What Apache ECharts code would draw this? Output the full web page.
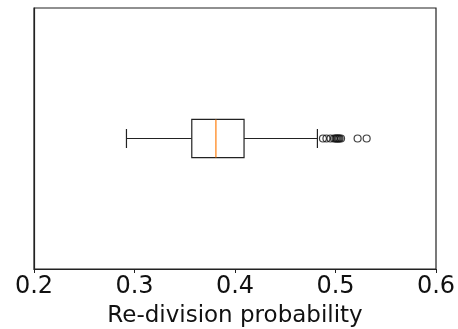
<!DOCTYPE html>
<html>
<head>
<meta charset="utf-8">
<script src="https://cdn.jsdelivr.net/npm/echarts@6/dist/echarts.min.js"></script>
<style>
  html, body { margin: 0; padding: 0; background: #fff; }
  #boxChart { width: 458px; height: 329px; }
</style>
</head>
<body>
<div id="boxChart"></div>
<script>
var categories = ["1"];
// five-number summary per box: low whisker, Q1, median, Q3, high whisker
var whiskerLow = [0.292];
var q1 = [0.357];
var medians = [0.381];
var q3 = [0.409];
var whiskerHigh = [0.482];
var outliers = [0.4875, 0.491, 0.495, 0.4985, 0.500, 0.501, 0.502, 0.503, 0.504, 0.5055, 0.522, 0.531];
var xTicks = [0.2, 0.3, 0.4, 0.5, 0.6];

var chart = echarts.init(document.getElementById("boxChart"));

var boxData = categories.map(function (c, i) {
  return [i, whiskerLow[i], q1[i], medians[i], q3[i], whiskerHigh[i]];
});
var outlierData = outliers.map(function (v) {
  return [v, 0];
});

var lineStyle = { stroke: "#222", lineWidth: 1.2 };

var option = {
  backgroundColor: "#fff",
  animation: false,
  textStyle: { fontFamily: "DejaVu Sans" },
  grid: {
    left: 34,
    right: 22,
    top: 8,
    bottom: 60,
    outerBoundsMode: "none",
    containLabel: false,
    show: true,
    borderColor: "#222",
    borderWidth: 1.2,
    backgroundColor: "transparent"
  },
  xAxis: {
    type: "value",
    min: xTicks[0],
    max: xTicks[xTicks.length - 1],
    interval: 0.1,
    name: "Re-division probability",
    nameLocation: "middle",
    nameGap: 36,
    nameTextStyle: { color: "#111", fontSize: 23, fontFamily: "DejaVu Sans" },
    axisLine: { show: true, lineStyle: { color: "#222", width: 1.2 } },
    axisTick: { show: true, length: 4, lineStyle: { color: "#222" } },
    splitLine: { show: false },
    axisLabel: {
      color: "#111",
      fontSize: 24,
      margin: 6,
      fontFamily: "DejaVu Sans",
      formatter: function (v) { return v.toFixed(1); }
    }
  },
  yAxis: {
    type: "category",
    data: categories,
    axisLine: { show: true, lineStyle: { color: "#222", width: 1.2 } },
    axisTick: { show: false },
    axisLabel: { show: false },
    splitLine: { show: false }
  },
  series: [
    {
      type: "custom",
      data: boxData,
      encode: { y: 0, x: [1, 2, 3, 4, 5] },
      renderItem: function (params, api) {
        var cat = api.value(0);
        var band = api.size([0, 1])[1];
        var half = band * 0.073;
        var cap = half / 2;
        var pLow = api.coord([api.value(1), cat]);
        var pQ1 = api.coord([api.value(2), cat]);
        var pMed = api.coord([api.value(3), cat]);
        var pQ3 = api.coord([api.value(4), cat]);
        var pHigh = api.coord([api.value(5), cat]);
        var y = pQ1[1];
        return {
          type: "group",
          children: [
            { type: "line", shape: { x1: pLow[0], y1: y, x2: pQ1[0], y2: y }, style: lineStyle },
            { type: "line", shape: { x1: pQ3[0], y1: y, x2: pHigh[0], y2: y }, style: lineStyle },
            { type: "line", shape: { x1: pLow[0], y1: y - cap, x2: pLow[0], y2: y + cap }, style: lineStyle },
            { type: "line", shape: { x1: pHigh[0], y1: y - cap, x2: pHigh[0], y2: y + cap }, style: lineStyle },
            {
              type: "rect",
              shape: { x: pQ1[0], y: y - half, width: pQ3[0] - pQ1[0], height: half * 2 },
              style: { fill: "#fff", stroke: "#222", lineWidth: 1.2 }
            },
            {
              type: "line",
              shape: { x1: pMed[0], y1: y - half, x2: pMed[0], y2: y + half },
              style: { stroke: "#ff7f0e", lineWidth: 1.2 }
            }
          ]
        };
      }
    },
    {
      type: "scatter",
      data: outlierData,
      symbol: "circle",
      symbolSize: 7,
      itemStyle: { color: "transparent", borderColor: "#111", borderWidth: 1.2 }
    }
  ]
};

chart.setOption(option);
</script>
</body>
</html>
